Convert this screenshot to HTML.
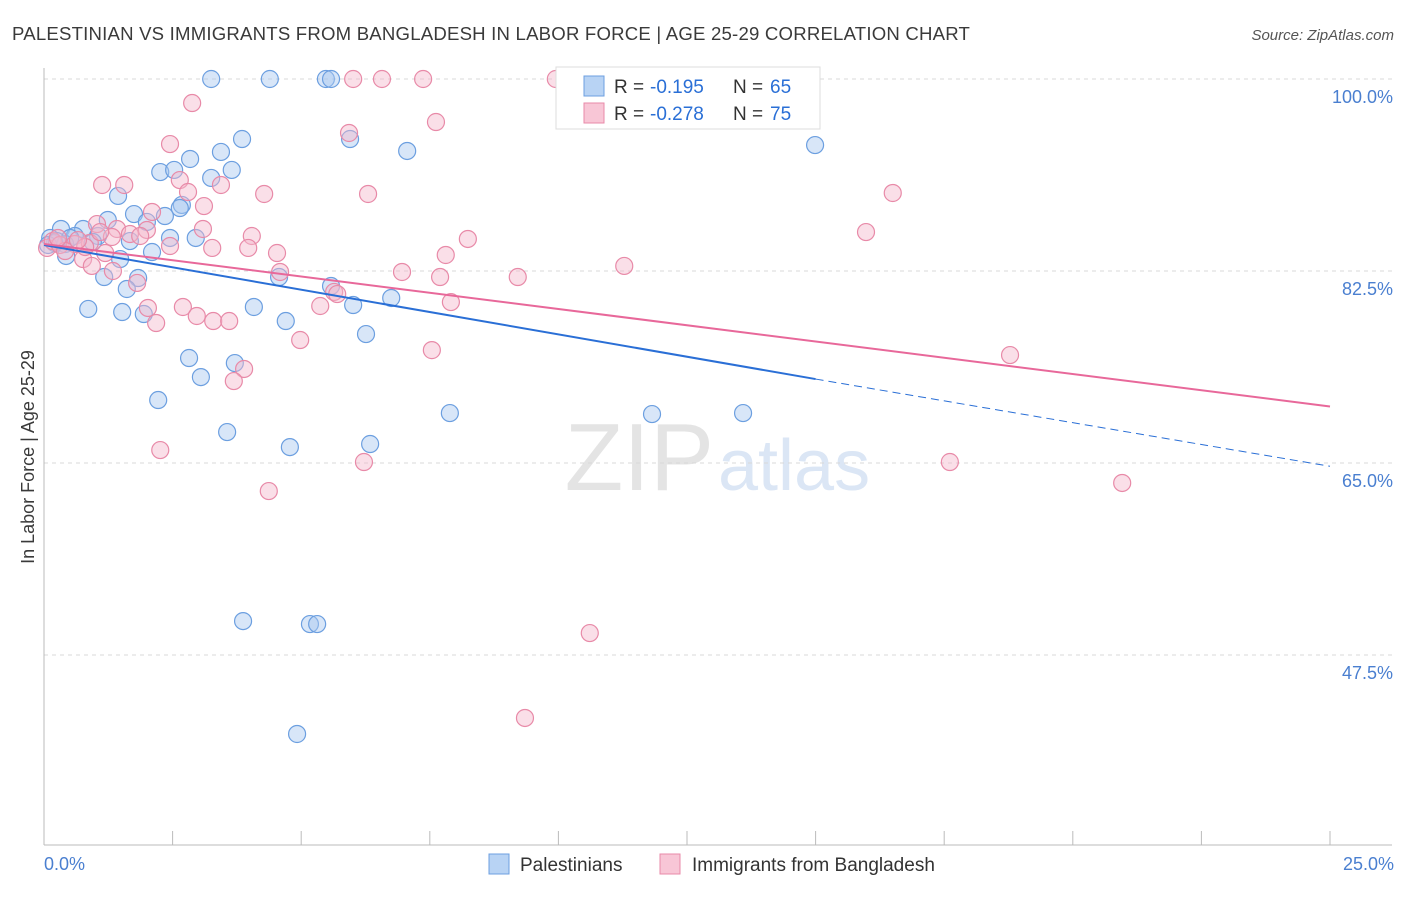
<!DOCTYPE html>
<html><head><meta charset="utf-8"><style>
body{margin:0;background:#fff;font-family:"Liberation Sans",sans-serif;}
svg text{font-family:"Liberation Sans",sans-serif;}
</style></head><body>
<svg id="chart" width="1406" height="892" xmlns="http://www.w3.org/2000/svg">
<text x="12" y="40" font-size="18.6" fill="#3a3a3a" letter-spacing="0.2">PALESTINIAN VS IMMIGRANTS FROM BANGLADESH IN LABOR FORCE | AGE 25-29 CORRELATION CHART</text>
<text x="1394" y="40" font-size="15" fill="#555" font-style="italic" text-anchor="end">Source: ZipAtlas.com</text>
<text x="714" y="490" font-size="96" fill="#e4e4e4" text-anchor="end" font-family="Liberation Serif">ZIP</text>
<text x="718" y="490" font-size="72" fill="#dbe6f5">atlas</text>
<text transform="translate(34,457) rotate(-90)" font-size="18" fill="#3a3a3a" text-anchor="middle">In Labor Force | Age 25-29</text>
<g id="grid"></g><g id="axes"></g><g id="pts"></g><g id="lines"></g>
<g>
<rect x="556" y="67" width="264" height="62" fill="#fff" stroke="#ddd"/>
<rect x="584" y="76" width="20" height="20" fill="#b8d3f4" stroke="#6c9fe0"/>
<text x="614" y="93" font-size="19" fill="#333">R =</text>
<text x="650" y="93" font-size="19" fill="#2a6fd6">-0.195</text>
<text x="733" y="93" font-size="19" fill="#333">N =</text>
<text x="770" y="93" font-size="19" fill="#2a6fd6">65</text>
<rect x="584" y="103" width="20" height="20" fill="#f8c6d6" stroke="#e88aa8"/>
<text x="614" y="120" font-size="19" fill="#333">R =</text>
<text x="650" y="120" font-size="19" fill="#2a6fd6">-0.278</text>
<text x="733" y="120" font-size="19" fill="#333">N =</text>
<text x="770" y="120" font-size="19" fill="#2a6fd6">75</text>
</g>
<g>
<rect x="489" y="854" width="20" height="20" fill="#b8d3f4" stroke="#6c9fe0"/>
<text x="520" y="871" font-size="19" fill="#333">Palestinians</text>
<rect x="660" y="854" width="20" height="20" fill="#f8c6d6" stroke="#e88aa8"/>
<text x="692" y="871" font-size="19" fill="#333">Immigrants from Bangladesh</text>
</g>
</svg>
<script>
const yTicks=[100,82.5,65,47.5];
const yTickLabels=["100.0%","82.5%","65.0%","47.5%"];
const xTickLabels=["0.0%","25.0%"];
const blueX=[3.25,4.39,5.48,5.58,14.99,3.85,5.95,7.06,3.44,2.84,2.26,2.53,3.25,3.65,1.44,2.68,2.64,1.75,1.24,2.35,2.00,0.33,0.76,1.05,1.67,2.45,2.95,0.60,0.12,0.21,0.41,2.10,0.43,1.48,1.17,1.83,1.61,4.57,5.58,6.75,6.01,4.08,0.86,1.52,1.94,4.70,6.26,2.82,3.71,3.05,2.22,7.89,11.82,13.59,3.56,6.34,4.78,3.87,5.17,5.31,4.92,0.08,0.25,0.95,0.51];
const blueY=[100,100,100,100,93.98,94.53,94.53,93.44,93.35,92.71,91.52,91.71,90.98,91.71,89.34,88.52,88.24,87.69,87.15,87.51,86.97,86.33,86.33,85.69,85.23,85.51,85.51,85.69,85.51,85.05,84.96,84.23,83.87,83.59,81.95,81.86,80.86,81.95,81.13,80.04,79.40,79.22,79.04,78.76,78.58,77.94,76.75,74.57,74.11,72.83,70.74,69.55,69.46,69.55,67.82,66.73,66.45,50.59,50.32,50.32,40.30,84.87,85.23,85.14,85.51];
const pinkX=[6.01,6.57,7.37,9.95,2.88,7.62,5.93,2.45,2.64,1.13,1.56,2.80,3.44,4.28,6.30,16.50,3.11,2.10,1.03,1.42,1.67,2.00,4.04,3.09,15.98,8.24,2.45,3.27,3.97,4.53,1.19,0.76,0.93,1.34,7.81,6.96,4.59,7.70,9.21,11.28,1.81,5.64,5.70,7.91,5.37,2.70,2.02,2.97,3.29,3.60,2.18,4.98,7.54,18.78,3.89,3.69,2.26,6.22,17.61,4.37,20.96,10.61,9.35,0.06,0.17,0.31,0.60,0.41,0.89,1.32,1.87,0.80,1.09,0.27,0.66];
const pinkY=[100,100,100,100,97.81,96.08,95.08,94.07,90.79,90.34,90.34,89.70,90.34,89.52,89.52,89.61,88.42,87.88,86.78,86.33,85.87,86.24,85.69,86.33,86.05,85.42,84.78,84.60,84.60,84.14,84.14,83.59,82.96,82.50,83.96,82.41,82.41,81.95,81.95,82.96,81.41,80.59,80.40,79.67,79.31,79.22,79.13,78.40,77.94,77.94,77.76,76.21,75.29,74.84,73.57,72.47,66.18,65.09,65.09,62.44,63.18,49.50,41.76,84.60,85.23,84.87,84.96,84.32,85.05,85.60,85.69,84.69,86.05,85.51,85.32];
const blueLine=[84.87,72.65,64.7]; // at x=0, 15, 25
const pinkLine=[84.96,70.15]; // at x=0, 25
const NS="http://www.w3.org/2000/svg";
const X=v=>44+v*51.44, Y=v=>79+(100-v)*192/17.5;
function mk(p,t,a){const e=document.createElementNS(NS,t);for(const k in a)e.setAttribute(k,a[k]);document.getElementById(p).appendChild(e);return e;}
yTicks.forEach((t,i)=>{
 const g=mk('grid','line',{x1:44,x2:1392,y1:Y(t),y2:Y(t),stroke:'#d8d8d8','stroke-dasharray':'4,4'});
 
 const l=mk('grid','text',{x:1393,y:Y(t)+24,'font-size':18,fill:'#4a7fd0','text-anchor':'end'});l.textContent=yTickLabels[i];
 
});
const ax=mk('axes','line',{x1:44,x2:44,y1:68,y2:845,stroke:'#bbb'});

const bx=mk('axes','line',{x1:44,x2:1392,y1:845,y2:845,stroke:'#bbb'});

for(let i=0;i<=10;i++){const t=mk('axes','line',{x1:X(i*2.5),x2:X(i*2.5),y1:831,y2:845,stroke:'#bbb'});
 }
[[0,'start',44],[25,'end',1394]].forEach((d,i)=>{const t=mk('axes','text',{x:d[2],y:870,'font-size':18,fill:'#4a7fd0','text-anchor':d[1]});t.textContent=xTickLabels[i];
 });
function pts(xs,ys,fill,stroke,name){xs.forEach((x,i)=>{const c=mk('pts','circle',{cx:X(x),cy:Y(ys[i]),r:8.5,fill:fill,'fill-opacity':0.45,stroke:stroke,'stroke-width':1.2});
 });}
pts(blueX,blueY,'#a9c8f0','#6c9fe0','palestinian-point');
pts(pinkX,pinkY,'#f5b8cb','#e88aa8','bangladesh-point');
let l1=mk('lines','line',{x1:X(0),y1:Y(blueLine[0]),x2:X(15),y2:Y(blueLine[1]),stroke:'#2a6fd6','stroke-width':2});

let l2=mk('lines','line',{x1:X(15),y1:Y(blueLine[1]),x2:X(25),y2:Y(blueLine[2]),stroke:'#2a6fd6','stroke-width':1,'stroke-dasharray':'8,5'});

let l3=mk('lines','line',{x1:X(0),y1:Y(pinkLine[0]),x2:X(25),y2:Y(pinkLine[1]),stroke:'#e8689a','stroke-width':2});

</script>
</body></html>
